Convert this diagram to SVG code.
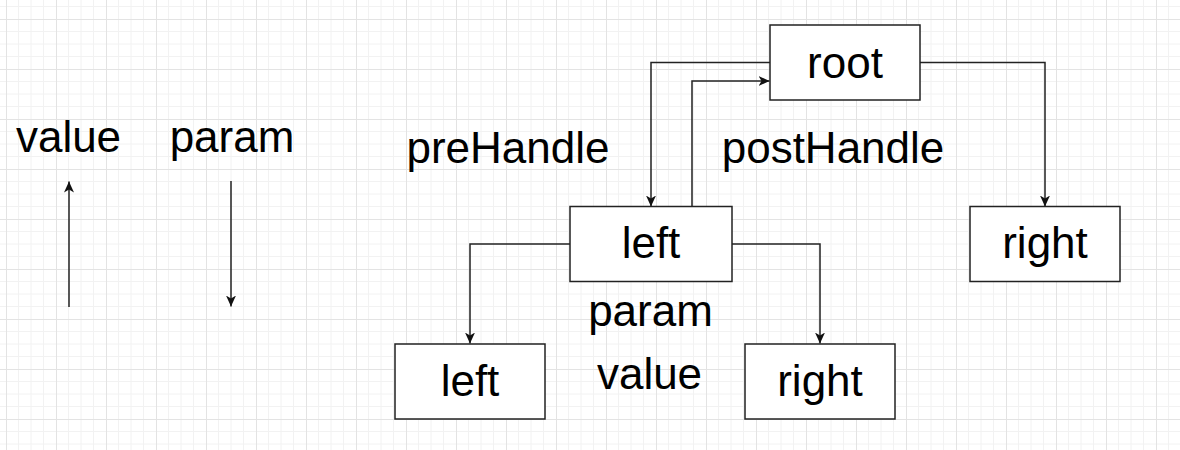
<svg xmlns="http://www.w3.org/2000/svg" width="1180" height="450" viewBox="0 0 1180 450">
  <defs>
    <pattern id="grid" patternUnits="userSpaceOnUse" x="6" y="19" width="50" height="50">
      <path d="M12.5,0 V50 M25,0 V50 M37.5,0 V50 M0,12.5 H50 M0,25 H50 M0,37.5 H50" stroke="#f2f2f2" stroke-width="1" fill="none"/>
      <path d="M0.5,0 V50 M0,0.5 H50" stroke="#e3e3e3" stroke-width="1" fill="none"/>
    </pattern>
    <marker id="arrow" markerUnits="userSpaceOnUse" markerWidth="12" markerHeight="12" refX="11" refY="5" orient="auto">
      <path d="M0,0 L11,5 L0,10 L3,5 Z" fill="#111"/>
    </marker>
    <style>
      .box { fill: #ffffff; stroke: #222; stroke-width: 1.5; }
      .lbl { font-family: "Liberation Sans", Arial, sans-serif; font-size: 44px; fill: #000; text-anchor: middle; }
      .edge { fill: none; stroke: #222; stroke-width: 1.5; marker-end: url(#arrow); }
    </style>
  </defs>
  <rect width="1180" height="450" fill="#ffffff"/>
  <rect width="1180" height="450" fill="url(#grid)"/>

  <g id="connectors">
    <path class="edge" d="M770,62.5 H651 V206.5"/>
    <path class="edge" d="M692,206.5 V81 H769.5"/>
    <path class="edge" d="M920,62.5 H1045 V206.5"/>
    <path class="edge" d="M570,244 H470 V343.5"/>
    <path class="edge" d="M732,244 H820 V343.5"/>
    <path class="edge" d="M69,307 V181.5"/>
    <path class="edge" d="M231,181 V306.5"/>
  </g>

  <g id="node-root">
    <rect class="box" x="770" y="25" width="150" height="75"/>
    <text class="lbl" x="845" y="78">root</text>
  </g>
  <g id="node-left">
    <rect class="box" x="570" y="206.5" width="162" height="75"/>
    <text class="lbl" x="651" y="258">left</text>
  </g>
  <g id="node-right">
    <rect class="box" x="970" y="206.5" width="150" height="75"/>
    <text class="lbl" x="1045" y="258">right</text>
  </g>
  <g id="node-left-left">
    <rect class="box" x="395" y="344" width="150" height="75"/>
    <text class="lbl" x="470" y="396">left</text>
  </g>
  <g id="node-left-right">
    <rect class="box" x="745" y="344" width="150" height="75"/>
    <text class="lbl" x="820" y="396">right</text>
  </g>

  <g id="labels">
    <text class="lbl" x="68.5" y="152">value</text>
    <text class="lbl" x="232" y="152">param</text>
    <text class="lbl" x="508" y="163">preHandle</text>
    <text class="lbl" x="833" y="163">postHandle</text>
    <text class="lbl" x="650.5" y="326">param</text>
    <text class="lbl" x="649.5" y="389">value</text>
  </g>
</svg>
